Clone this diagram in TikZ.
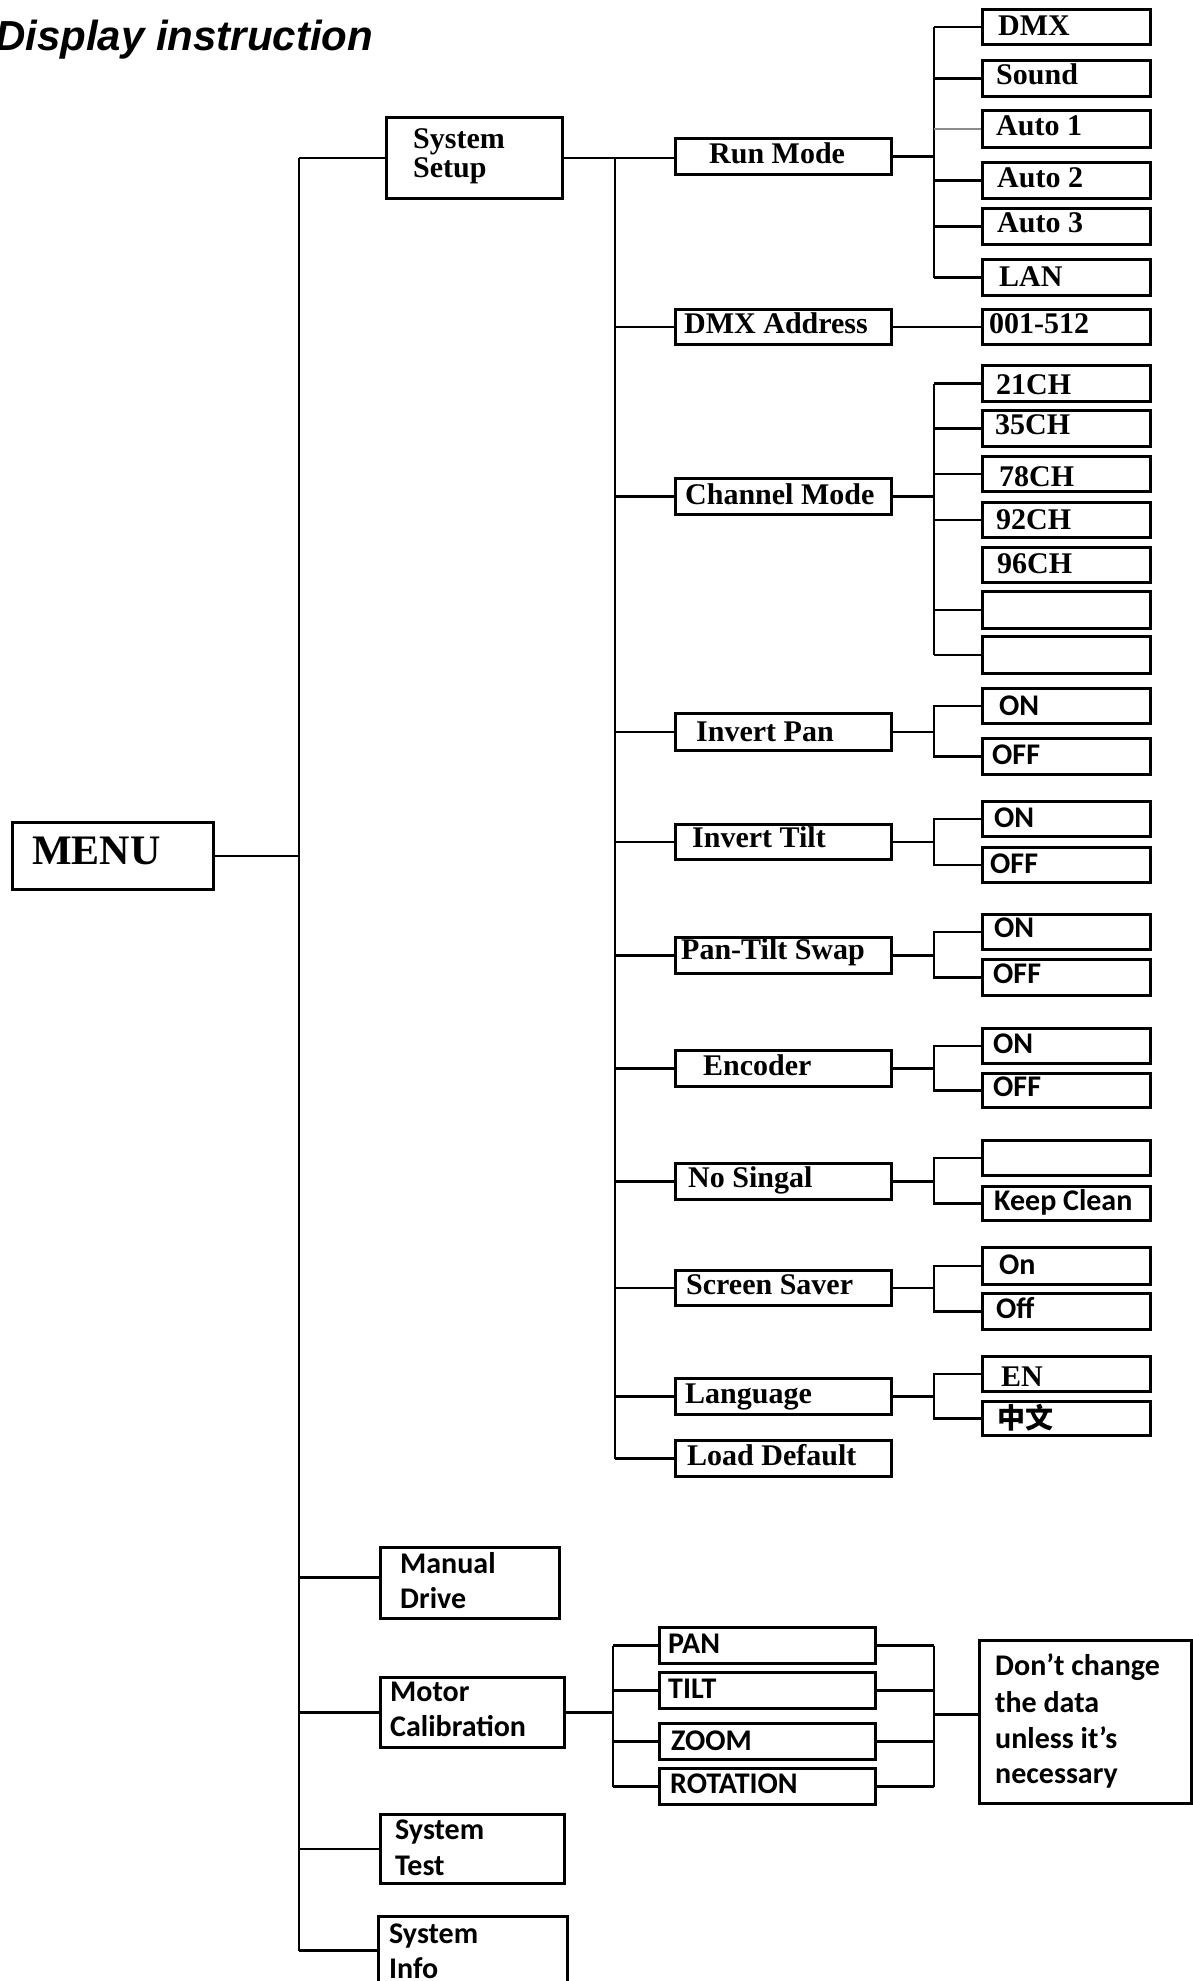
\documentclass[tikz,border=0pt]{standalone}
\usepackage{fontspec}
\newfontfamily\FSerif{Liberation Serif}
\newfontfamily\FCal{Carlito}
\newfontfamily\FAri{Liberation Sans}
\newfontfamily\FCjk{Noto Sans CJK SC}
\tikzset{
  box/.style={draw, line width=3pt, inner sep=0pt, anchor=north west},
  ln/.style={line width=2.8pt},
  thinln/.style={line width=1.2pt, black!45},
  ts/.style={anchor=base west, inner sep=0pt, font=\FSerif\bfseries\fontsize{30}{36}\selectfont},
  tc/.style={anchor=base west, inner sep=0pt, font=\FCal\bfseries\fontsize{30}{36}\selectfont},
}
\begin{document}
\begin{tikzpicture}[x=1pt,y=-1pt]
\useasboundingbox (0,0) rectangle (1192,1981);
\fill[white] (0,0) rectangle (1192,1981);

% title
\node[anchor=base west, inner sep=0pt, font=\FAri\bfseries\itshape\fontsize{42}{48}\selectfont] (title) at (-5,50) {Display instruction};

% trunk coordinates
\coordinate (T1) at (299,0);
\coordinate (T2) at (615,0);
\coordinate (R) at (934,0);
\coordinate (M1) at (613,0);
\coordinate (M2) at (934,0);

% MENU
\node[box, minimum width=201pt, minimum height=67pt] (menu) at (11,821) {};
\node[anchor=base west, inner sep=0pt, font=\FSerif\bfseries\fontsize{42}{48}\selectfont] (menu-t) at (32,864) {MENU};

% level 1
\node[box, minimum width=176pt, minimum height=81pt] (ss) at (385,116) {};
\node[ts] (ss-t1) at (413,148) {System};
\node[ts] (ss-t2) at (413,177) {Setup};

\node[box, minimum width=179pt, minimum height=71pt] (manual) at (379,1546) {};
\node[tc] (manual-t1) at (400,1573) {Manual};
\node[tc] (manual-t2) at (400,1608) {Drive};

\node[box, minimum width=184pt, minimum height=70pt] (motor) at (379,1676) {};
\node[tc] (motor-t1) at (390,1701) {Motor};
\node[tc] (motor-t2) at (390,1736) {Calibration};

\node[box, minimum width=184pt, minimum height=69pt] (stest) at (379,1813) {};
\node[tc] (stest-t1) at (395,1839) {System};
\node[tc] (stest-t2) at (395,1875) {Test};

\node[box, minimum width=189pt, minimum height=68pt] (sinfo) at (377,1915) {};
\node[tc] (sinfo-t1) at (389,1943) {System};
\node[tc] (sinfo-t2) at (389,1978) {Info};

% level 2 (System Setup)
\node[box, minimum width=216pt, minimum height=36pt] (runmode) at (674,137) {};
\node[ts] (runmode-t) at (709,163) {Run Mode};
\node[box, minimum width=216pt, minimum height=35pt] (dmxaddr) at (674,308) {};
\node[ts] (dmxaddr-t) at (684,333) {DMX Address};
\node[box, minimum width=216pt, minimum height=36pt] (chmode) at (674,477) {};
\node[ts] (chmode-t) at (685,504) {Channel Mode};
\node[box, minimum width=216pt, minimum height=37pt] (invpan) at (674,712) {};
\node[ts] (invpan-t) at (696,741) {Invert Pan};
\node[box, minimum width=216pt, minimum height=35pt] (invtilt) at (674,823) {};
\node[ts] (invtilt-t) at (692,847) {Invert Tilt};
\node[box, minimum width=216pt, minimum height=36pt] (ptswap) at (674,936) {};
\node[ts] (ptswap-t) at (681,959) {Pan-Tilt Swap};
\node[box, minimum width=216pt, minimum height=36pt] (encoder) at (674,1049) {};
\node[ts] (encoder-t) at (703,1075) {Encoder};
\node[box, minimum width=216pt, minimum height=36pt] (nosig) at (674,1162) {};
\node[ts] (nosig-t) at (688,1187) {No Singal};
\node[box, minimum width=216pt, minimum height=35pt] (saver) at (674,1269) {};
\node[ts] (saver-t) at (686,1294) {Screen Saver};
\node[box, minimum width=216pt, minimum height=36pt] (lang) at (674,1377) {};
\node[ts] (lang-t) at (685,1403) {Language};
\node[box, minimum width=216pt, minimum height=36pt] (loaddef) at (674,1439) {};
\node[ts] (loaddef-t) at (687,1465) {Load Default};

% level 3 options
\node[box, minimum width=168pt, minimum height=35pt] (dmx) at (981,8) {};
\node[ts] (dmx-t) at (998,35) {DMX};
\node[box, minimum width=168pt, minimum height=36pt] (sound) at (981,59) {};
\node[ts] (sound-t) at (996,84) {Sound};
\node[box, minimum width=168pt, minimum height=37pt] (auto1) at (981,109) {};
\node[ts] (auto1-t) at (996,135) {Auto 1};
\node[box, minimum width=168pt, minimum height=36pt] (auto2) at (981,161) {};
\node[ts] (auto2-t) at (997,187) {Auto 2};
\node[box, minimum width=168pt, minimum height=36pt] (auto3) at (981,207) {};
\node[ts] (auto3-t) at (997,232) {Auto 3};
\node[box, minimum width=168pt, minimum height=36pt] (lan) at (981,258) {};
\node[ts] (lan-t) at (999,286) {LAN};

\node[box, minimum width=168pt, minimum height=35pt] (addr512) at (981,308) {};
\node[ts] (addr512-t) at (989,333) {001-512};

\node[box, minimum width=168pt, minimum height=36pt] (ch21) at (981,364) {};
\node[ts] (ch21-t) at (996,394) {21CH};
\node[box, minimum width=168pt, minimum height=36pt] (ch35) at (981,409) {};
\node[ts] (ch35-t) at (995,434) {35CH};
\node[box, minimum width=168pt, minimum height=35pt] (ch78) at (981,455) {};
\node[ts] (ch78-t) at (999,486) {78CH};
\node[box, minimum width=168pt, minimum height=35pt] (ch92) at (981,501) {};
\node[ts] (ch92-t) at (996,529) {92CH};
\node[box, minimum width=168pt, minimum height=35pt] (ch96) at (981,546) {};
\node[ts] (ch96-t) at (997,573) {96CH};
\node[box, minimum width=168pt, minimum height=37pt] (che1) at (981,590) {};
\node[box, minimum width=168pt, minimum height=37pt] (che2) at (981,635) {};

\node[box, minimum width=168pt, minimum height=35pt] (ipon) at (981,687) {};
\node[tc] (ipon-t) at (999,715) {ON};
\node[box, minimum width=168pt, minimum height=36pt] (ipoff) at (981,737) {};
\node[tc] (ipoff-t) at (992,764) {OFF};

\node[box, minimum width=168pt, minimum height=35pt] (iton) at (981,800) {};
\node[tc] (iton-t) at (994,827) {ON};
\node[box, minimum width=168pt, minimum height=35pt] (itoff) at (981,846) {};
\node[tc] (itoff-t) at (990,873) {OFF};

\node[box, minimum width=168pt, minimum height=35pt] (pson) at (981,913) {};
\node[tc] (pson-t) at (994,937) {ON};
\node[box, minimum width=168pt, minimum height=36pt] (psoff) at (981,958) {};
\node[tc] (psoff-t) at (993,983) {OFF};

\node[box, minimum width=168pt, minimum height=35pt] (enon) at (981,1027) {};
\node[tc] (enon-t) at (993,1053) {ON};
\node[box, minimum width=168pt, minimum height=34pt] (enoff) at (981,1072) {};
\node[tc] (enoff-t) at (993,1096) {OFF};

\node[box, minimum width=168pt, minimum height=35pt] (nsempty) at (981,1139) {};
\node[box, minimum width=168pt, minimum height=34pt] (nsclean) at (981,1185) {};
\node[tc] (nsclean-t) at (994,1210) {Keep Clean};

\node[box, minimum width=168pt, minimum height=37pt] (sson) at (981,1246) {};
\node[tc] (sson-t) at (999,1274) {On};
\node[box, minimum width=168pt, minimum height=36pt] (ssoff) at (981,1292) {};
\node[tc] (ssoff-t) at (996,1318) {Off};

\node[box, minimum width=168pt, minimum height=35pt] (en) at (981,1355) {};
\node[ts] (en-t) at (1001,1386) {EN};
\node[box, minimum width=168pt, minimum height=34pt] (zh) at (981,1400) {};
\node[anchor=base west, inner sep=0pt, font=\FCjk\bfseries\fontsize{28}{34}\selectfont] (zh-t) at (997,1428) {中文};

% motor calibration sub-items
\node[box, minimum width=216pt, minimum height=36pt] (pan) at (658,1626) {};
\node[tc] (pan-t) at (668,1653) {PAN};
\node[box, minimum width=216pt, minimum height=36pt] (tilt) at (658,1671) {};
\node[tc] (tilt-t) at (668,1698) {TILT};
\node[box, minimum width=216pt, minimum height=36pt] (zoom) at (658,1722) {};
\node[tc] (zoom-t) at (671,1750) {ZOOM};
\node[box, minimum width=216pt, minimum height=36pt] (rot) at (658,1767) {};
\node[tc] (rot-t) at (670,1793) {ROTATION};

\node[box, minimum width=212pt, minimum height=163pt] (note) at (978,1639) {};
\node[tc] (note-t1) at (995,1675) {Don’t change};
\node[tc] (note-t2) at (995,1712) {the data};
\node[tc] (note-t3) at (995,1748) {unless it’s};
\node[tc] (note-t4) at (995,1783) {necessary};

% ---------- connectors ----------
% MENU trunk
\draw[ln] (menu.east) -- (T1 |- menu.east);
\draw[ln] (T1 |- ss.west) -- (T1 |- sinfo.west);
\draw[ln] (T1 |- ss.west) -- (ss.west);
\coordinate (mdc) at ([yshift=5.5pt]manual.west);
\draw[ln] (T1 |- mdc) -- (mdc);
\draw[ln] (T1 |- motor.west) -- (motor.west);
\draw[ln] (T1 |- stest.west) -- (stest.west);
\draw[ln] (T1 |- sinfo.west) -- (sinfo.west);

% System Setup trunk
\draw[ln] (ss.east) -- (runmode.west |- ss.east);
\draw[ln] (T2 |- ss.east) -- (T2 |- loaddef.west);
\foreach \m in {dmxaddr,chmode,invpan,invtilt,ptswap,encoder,nosig,saver,lang,loaddef}
  \draw[ln] (T2 |- \m.west) -- (\m.west);

% Run Mode
\draw[ln] (runmode.east) -- (R |- runmode.east);
\draw[ln] (R |- dmx.west) -- (R |- lan.west);
\foreach \o in {dmx,sound,auto2,auto3,lan}
  \draw[ln] (R |- \o.west) -- (\o.west);
\draw[thinln] (R |- auto1.west) -- (auto1.west);

% DMX Address
\draw[ln] (dmxaddr.east) -- (addr512.west);

% Channel Mode
\draw[ln] (chmode.east) -- (R |- chmode.east);
\draw[ln] (R |- ch21.west) -- (R |- che2.west);
\foreach \o in {ch21,ch35,ch78,ch92,che1,che2}
  \draw[ln] (R |- \o.west) -- (\o.west);

% two-way options
\foreach \p/\a/\b in {invpan/ipon/ipoff, invtilt/iton/itoff, ptswap/pson/psoff, encoder/enon/enoff, nosig/nsempty/nsclean, saver/sson/ssoff, lang/en/zh}{
  \draw[ln] (\p.east) -- (R |- \p.east);
  \draw[ln] (\a.west) -- (R |- \a.west) -- (R |- \b.west) -- (\b.west);
}

% Motor Calibration
\draw[ln] (motor.east) -- (M1 |- motor.east);
\draw[ln] (M1 |- pan.west) -- (M1 |- rot.west);
\foreach \o in {pan,tilt,zoom,rot}{
  \draw[ln] (M1 |- \o.west) -- (\o.west);
  \draw[ln] (\o.east) -- (M2 |- \o.east);
}
\draw[ln] (M2 |- pan.east) -- (M2 |- rot.east);
\coordinate (nc) at ([yshift=7.5pt]note.west);
\draw[ln] (M2 |- nc) -- (nc);
\end{tikzpicture}
\end{document}
